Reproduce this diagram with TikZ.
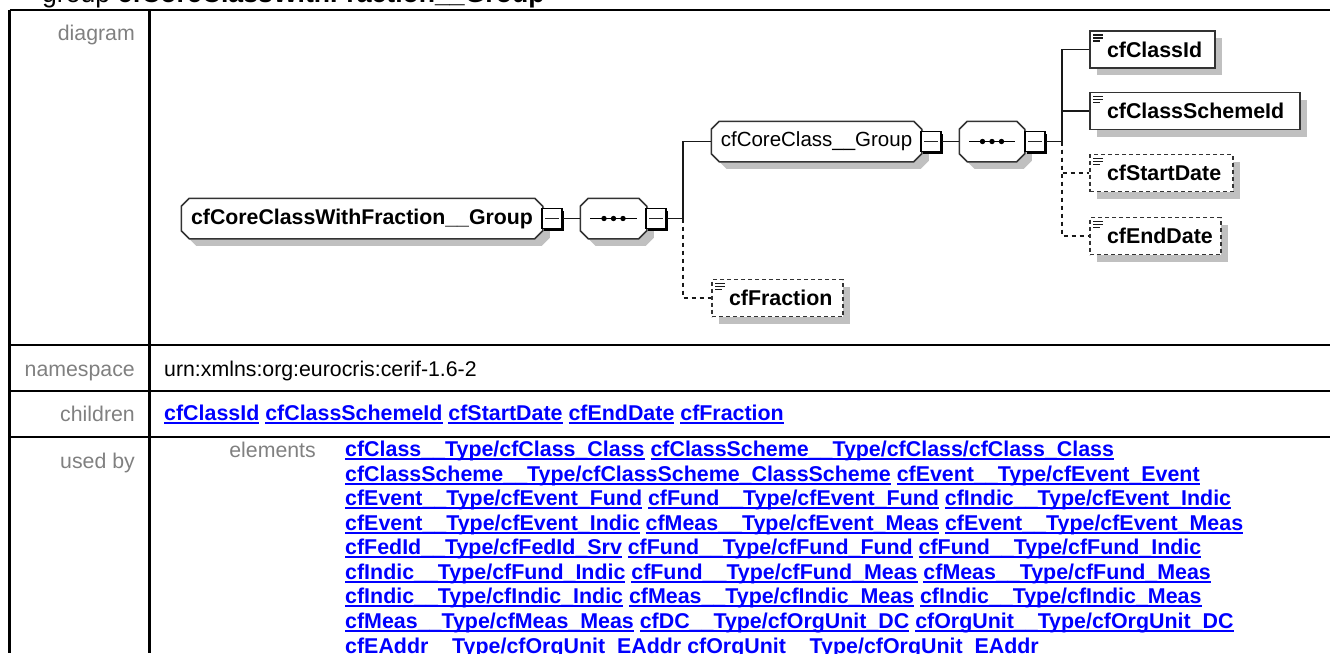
\documentclass[tikz,border=0pt]{standalone}
\usepackage{fontspec}
\setmainfont{Liberation Sans}
\usetikzlibrary{shadows}
\definecolor{shgray}{HTML}{C0C0C0}
\definecolor{lblgray}{HTML}{808080}
\definecolor{linkblue}{HTML}{0000FF}
\newcommand{\lk}[1]{\setbox0=\hbox{\textbf{#1}}\rlap{\color{linkblue}\vrule width\wd0 height -1.6pt depth 3.6pt}\textcolor{linkblue}{\box0}}
\newcommand{\fs}[1]{\fontsize{#1pt}{#1pt}\selectfont}
\makeatletter
\pgfdeclareshape{octobox}{
  \inheritsavedanchors[from=rectangle]
  \inheritanchorborder[from=rectangle]
  \inheritanchor[from=rectangle]{center}
  \inheritanchor[from=rectangle]{north}
  \inheritanchor[from=rectangle]{south}
  \inheritanchor[from=rectangle]{east}
  \inheritanchor[from=rectangle]{west}
  \inheritanchor[from=rectangle]{base}
  \backgroundpath{
    \southwest \pgf@xa=\pgf@x \pgf@ya=\pgf@y
    \northeast \pgf@xb=\pgf@x \pgf@yb=\pgf@y
    \def\cc{8pt}
    \pgfpathmoveto{\pgfqpoint{\pgf@xa}{\dimexpr\pgf@ya+\cc\relax}}
    \pgfpathlineto{\pgfqpoint{\pgf@xa}{\dimexpr\pgf@yb-\cc\relax}}
    \pgfpathlineto{\pgfqpoint{\dimexpr\pgf@xa+\cc\relax}{\pgf@yb}}
    \pgfpathlineto{\pgfqpoint{\dimexpr\pgf@xb-\cc\relax}{\pgf@yb}}
    \pgfpathlineto{\pgfqpoint{\pgf@xb}{\dimexpr\pgf@yb-\cc\relax}}
    \pgfpathlineto{\pgfqpoint{\pgf@xb}{\dimexpr\pgf@ya+\cc\relax}}
    \pgfpathlineto{\pgfqpoint{\dimexpr\pgf@xb-\cc\relax}{\pgf@ya}}
    \pgfpathlineto{\pgfqpoint{\dimexpr\pgf@xa+\cc\relax}{\pgf@ya}}
    \pgfpathclose
  }
}
\makeatother
\tikzset{
  x=1pt,y=-1pt,
  grid/.style={line width=2.2pt,black},
  lbl/.style={anchor=base east,inner sep=0,text=lblgray,font=\fs{21.3}},
  txt/.style={anchor=base west,inner sep=0,font=\fs{21.3}},
  link/.style={anchor=base west,inner sep=0,font=\fs{21.4}},
  shd/.style={general shadow={shadow xshift=7pt,shadow yshift=-7pt,fill=shgray}},
  octo/.style={octobox,draw=black!80,line width=1.5pt,fill=white,inner sep=0,minimum height=39pt,shd},
  minusbox/.style={rectangle,draw=black,line width=1.5pt,fill=white,minimum width=20pt,minimum height=20pt,inner sep=0,
    general shadow={shadow xshift=2pt,shadow yshift=-2pt,fill=black},
    path picture={\draw[line width=1.2pt,black!85] ([xshift=3pt]path picture bounding box.west) -- ([xshift=-3pt]path picture bounding box.east);}},
  seqdots/.style={path picture={
    \draw[line width=1.3pt,black] ([xshift=10pt]path picture bounding box.west) -- ([xshift=-10pt]path picture bounding box.east);
    \fill[black] (path picture bounding box.center) circle (2.7pt) ++(-9.5pt,0) circle (2.7pt) ++(19pt,0) circle (2.7pt);}},
  icon/.style={path picture={
    \draw[solid,line width=1.2pt,black!90]
      ([xshift=3pt,yshift=-4pt]path picture bounding box.north west) -- ++(10pt,0)
      ([xshift=3pt,yshift=-7pt]path picture bounding box.north west) -- ++(10pt,0)
      ([xshift=3pt,yshift=-10pt]path picture bounding box.north west) -- ++(7pt,0);}},
  elem/.style={rectangle,draw=black!80,line width=1.6pt,fill=white,inner sep=0,minimum height=37pt,shd,icon,font=\fs{21.4}\bfseries},
  optelem/.style={elem,dash pattern=on 4pt off 3pt,line width=1.8pt},
  conn/.style={line width=1.7pt,black!90},
  optconn/.style={line width=1.7pt,black!90,dash pattern=on 4pt off 4pt},
}
\newcommand{\boxtext}[2]{\makebox[#1pt][l]{\hspace{17pt}#2}}
\begin{document}
\begin{tikzpicture}
\useasboundingbox (0,0) rectangle (1330,653);
\clip (0,0) rectangle (1330,653);
% title, cropped by the page top
\node[anchor=base west,inner sep=0,font=\fs{26.6}] (title) at (42,2.5) {group \textbf{cfCoreClassWithFraction\_\_Group}};
% table rules
\draw[grid] (9.5,10) -- (1330,10);
\draw[grid] (9.5,345) -- (1330,345);
\draw[grid] (9.5,391) -- (1330,391);
\draw[grid] (9.5,437) -- (1330,437);
\draw[grid] (9.5,10) -- (9.5,653);
\draw[grid] (149.5,10) -- (149.5,653);
% row labels
\node[lbl] (ldiagram) at (135,40) {diagram};
\node[lbl] (lns) at (135,376) {namespace};
\node[lbl] (lch) at (135,421) {children};
\node[lbl] (lused) at (135,468) {used by};
\node[lbl] (lel) at (316,457) {elements};
\node[txt] (ns) at (164,376) {urn:xmlns:org:eurocris:cerif-1.6-2};
\node[link] (ch) at (164,420.5) {\lk{cfClassId} \lk{cfClassSchemeId} \lk{cfStartDate} \lk{cfEndDate} \lk{cfFraction}};
\node[link] (u1) at (345,456.5) {\lk{cfClass\_\_Type/cfClass\_Class} \lk{cfClassScheme\_\_Type/cfClass/cfClass\_Class}};
\node[link] (u2) at (345,481) {\lk{cfClassScheme\_\_Type/cfClassScheme\_ClassScheme} \lk{cfEvent\_\_Type/cfEvent\_Event}};
\node[link] (u3) at (345,505.5) {\lk{cfEvent\_\_Type/cfEvent\_Fund} \lk{cfFund\_\_Type/cfEvent\_Fund} \lk{cfIndic\_\_Type/cfEvent\_Indic}};
\node[link] (u4) at (345,530) {\lk{cfEvent\_\_Type/cfEvent\_Indic} \lk{cfMeas\_\_Type/cfEvent\_Meas} \lk{cfEvent\_\_Type/cfEvent\_Meas}};
\node[link] (u5) at (345,554.5) {\lk{cfFedId\_\_Type/cfFedId\_Srv} \lk{cfFund\_\_Type/cfFund\_Fund} \lk{cfFund\_\_Type/cfFund\_Indic}};
\node[link] (u6) at (345,579) {\lk{cfIndic\_\_Type/cfFund\_Indic} \lk{cfFund\_\_Type/cfFund\_Meas} \lk{cfMeas\_\_Type/cfFund\_Meas}};
\node[link] (u7) at (345,603.5) {\lk{cfIndic\_\_Type/cfIndic\_Indic} \lk{cfMeas\_\_Type/cfIndic\_Meas} \lk{cfIndic\_\_Type/cfIndic\_Meas}};
\node[link] (u8) at (345,628) {\lk{cfMeas\_\_Type/cfMeas\_Meas} \lk{cfDC\_\_Type/cfOrgUnit\_DC} \lk{cfOrgUnit\_\_Type/cfOrgUnit\_DC}};
\node[link] (u9) at (345,653) {\lk{cfEAddr\_\_Type/cfOrgUnit\_EAddr} \lk{cfOrgUnit\_\_Type/cfOrgUnit\_EAddr}};
% diagram nodes
\node[octo,minimum width=360pt,font=\fs{21.3}\bfseries] (g0) at (362,218.5) {\raisebox{-1.5pt}{cfCoreClassWithFraction\_\_Group}};
\node[minusbox] (m0) at (552,218.5) {};
\node[octo,seqdots,minimum width=65pt] (s0) at (613.5,218.5) {};
\node[minusbox] (ms0) at (656,218.5) {};
\coordinate (b0) at (683,218.5);
\node[octo,minimum width=209pt,font=\fs{20.5}] (g1) at (816.5,141.5) {\raisebox{-1.5pt}{cfCoreClass\_\_Group}};
\node[minusbox] (m1) at (931,141.5) {};
\node[octo,seqdots,minimum width=64pt] (s1) at (992,141.5) {};
\node[minusbox] (ms1) at (1035,141.5) {};
\coordinate (b1) at (1062,141.5);
\node[elem,minimum width=125pt] (e1) at (1152.5,49.5) {\boxtext{125}{cfClassId}};
\node[elem,minimum width=210pt] (e2) at (1195,111) {\boxtext{210}{cfClassSchemeId}};
\node[optelem,minimum width=143pt] (e3) at (1161.5,173) {\boxtext{143}{cfStartDate}};
\node[optelem,minimum width=131pt] (e4) at (1155.5,236) {\boxtext{131}{cfEndDate}};
\node[optelem,minimum width=131pt] (e5) at (777.5,298) {\boxtext{131}{cfFraction}};
% connectors
\draw[conn] (m0.east) -- (s0.west);
\draw[conn] (ms0.east) -- (b0);
\draw[conn] (b0) |- (g1.west);
\draw[optconn] (b0) |- (e5.west);
\draw[conn] (m1.east) -- (s1.west);
\draw[conn] (ms1.east) -- (b1);
\draw[conn] (b1) |- (e1.west);
\draw[conn] (b1) |- (e2.west);
\draw[optconn] (b1) |- (e3.west);
\draw[optconn] (b1) |- (e4.west);
\end{tikzpicture}
\end{document}
